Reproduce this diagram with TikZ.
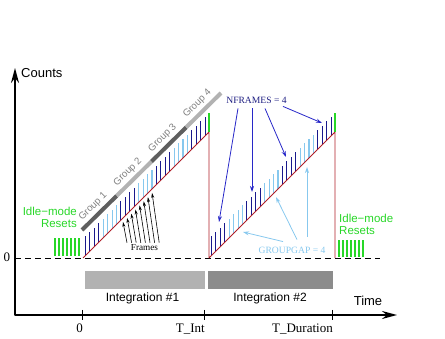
\documentclass[tikz,border=0pt]{standalone}
\usepackage{fontspec}
\setmainfont{Liberation Serif}
\setsansfont{Liberation Sans}
\usepackage{xcolor}
\usepackage{tikz}
\usetikzlibrary{arrows.meta,calc}

\definecolor{frameblue}{RGB}{25,25,140}
\definecolor{gapblue}{RGB}{135,200,238}
\definecolor{idlegreen}{RGB}{40,215,40}
\definecolor{rampred}{RGB}{175,30,40}
\definecolor{arrowblue}{RGB}{40,40,200}
\definecolor{labelblue}{RGB}{30,30,130}
\definecolor{banddark}{RGB}{95,95,95}
\definecolor{bandlight}{RGB}{178,178,178}

\begin{document}
\begin{tikzpicture}[x=1pt,y=-1pt,line join=round,
  readbar/.style={line width=1.1pt,draw=frameblue},
  gapbar/.style={line width=1.1pt,draw=gapblue},
  resetbar/.style={line width=1.3pt,draw=idlegreen},
  ramp/.style={line width=0.8pt,draw=rampred},
  band/.style={line width=4pt},
  grouplbl/.style={above=1pt,sloped,inner sep=1.5pt,text=gray,font=\sffamily\fontsize{9.7}{10}\selectfont},
  axis/.style={line width=1.8pt,{Stealth[length=15pt,width=8pt]}-{Stealth[length=15pt,width=8pt]}},
  tickmark/.style={line width=1pt},
  framearrow/.style={line width=0.6pt,-{Stealth[length=5pt,width=3pt]}},
  nfarrow/.style={line width=0.8pt,draw=arrowblue,-{Stealth[length=6pt,width=4pt]}},
  gaparrow/.style={line width=0.8pt,draw=gapblue,-{Stealth[length=6pt,width=4pt]}},
  sanslbl/.style={font=\sffamily\fontsize{12}{12}\selectfont,inner sep=0pt},
  seriflbl/.style={font=\fontsize{13}{13}\selectfont,inner sep=0pt},
  smalllbl/.style={font=\fontsize{9.6}{10}\selectfont,inner sep=1pt},
  idlelbl/.style={font=\sffamily\fontsize{11.5}{11.5}\selectfont,text=idlegreen,inner sep=0pt}]
  \useasboundingbox (0,0) rectangle (445,339);
  \coordinate (O) at (15,315);
  \coordinate (Ytop) at (15,68);
  \coordinate (Xend) at (397,315);
  \coordinate (Z0) at (15,258);
  \coordinate (Z1) at (380,258);
  \coordinate (A0) at (83,258);
  \coordinate (A1) at (209,132);
  \coordinate (B0) at (209,258);
  \coordinate (B1) at (335,132);
  \coordinate (B2) at (335,258);
  \coordinate (G0) at (82,230);
  \coordinate (G1) at (116.75,195.75);
  \coordinate (G2) at (151.5,161.5);
  \coordinate (G3) at (186.25,127.25);
  \coordinate (G4) at (221,93);
  % baseline and integration blocks
  \draw[line width=0.8pt,dash pattern=on 6pt off 4pt] (Z0) -- (Z1);
  \fill[bandlight] (85,271) rectangle (205,289);
  \fill[black!45] (208,271) rectangle (333,289);
  \node[sanslbl,anchor=base] (int1) at (142.5,302) {Integration \#1};
  \node[sanslbl,anchor=base] (int2) at (270,302) {Integration \#2};
  % frames on the two ramps
  \foreach \rs in {83,209} {
    \foreach \i in {0,...,27} {
      \pgfmathsetmacro{\bx}{\rs+2.5+4.43*\i}
      \pgfmathsetmacro{\by}{258-(\bx-\rs)}
      \pgfmathtruncatemacro{\grp}{mod(\i,8)}
      \ifnum\grp<4 \draw[readbar] (\bx,\by) -- ++(0,-19);
      \else \draw[gapbar] (\bx,\by) -- ++(0,-19);\fi
    }
  }
  \draw[ramp] (A0) -- (A1) -- (B0) -- (B1) -- (B2);
  \draw[resetbar] (A1) -- ++(0,-19);
  \draw[resetbar] (B1) -- ++(0,-19);
  \foreach \i in {0,...,6} {
    \draw[resetbar] ({55+4*\i},256) -- ++(0,-18);
    \draw[resetbar] ({339+4*\i},257) -- ++(0,-17);
  }
  \node[idlelbl,align=right,anchor=north east] (idle1) at (77,207) {Idle−mode\\Resets};
  \node[idlelbl,align=left,anchor=north west] (idle2) at (339,214) {Idle−mode\\Resets};
  % groups
  \draw[band,banddark] (G0) -- node[grouplbl] (grp1) {Group 1} (G1);
  \draw[band,bandlight] (G1) -- node[grouplbl] (grp2) {Group 2} (G2);
  \draw[band,banddark] (G2) -- node[grouplbl] (grp3) {Group 3} (G3);
  \draw[band,bandlight] (G3) -- node[grouplbl] (grp4) {Group 4} (G4);
  % frames arrows
  \node[smalllbl,font=\fontsize{9.2}{10}\selectfont] (frames) at (144.5,248) {Frames};
  \foreach \i in {0,...,7} {
    \coordinate (fh\i) at ({123+4.15*\i},{222-4.15*\i});
    \draw[framearrow] ([xshift={-17.5+4.6*\i},yshift=1pt]frames.north) -- (fh\i);
  }
  % NFRAMES
  \node[smalllbl,text=labelblue] (nframes) at (256.5,100) {NFRAMES = 4};
  \coordinate (nf1) at (219,222);
  \coordinate (nf2) at (252,192);
  \coordinate (nf3) at (286,157);
  \coordinate (nf4) at (322,123);
  \draw[nfarrow] ([xshift=-18.5pt,yshift=-4pt]nframes.south) -- (nf1);
  \draw[nfarrow] ([xshift=-4.5pt,yshift=-4pt]nframes.south) -- (nf2);
  \draw[nfarrow] ([xshift=8.5pt,yshift=-4pt]nframes.south) -- (nf3);
  \draw[nfarrow] ([xshift=26.5pt,yshift=-2pt]nframes.south) -- (nf4);
  % GROUPGAP
  \node[smalllbl,text=gapblue] (ggap) at (292,250) {GROUPGAP = 4};
  \coordinate (gg1) at (243,232);
  \coordinate (gg2) at (276,197);
  \coordinate (gg3) at (307,167);
  \draw[gaparrow] ([xshift=-9pt,yshift=4pt]ggap.north) -- (gg1);
  \draw[gaparrow] ([xshift=5pt,yshift=6pt]ggap.north) -- (gg2);
  \draw[gaparrow] ([xshift=15pt,yshift=9pt]ggap.north) -- (gg3);
  % axes
  \draw[axis] (Ytop) -- (O) -- (Xend);
  \foreach \tx/\tl [count=\k] in {82/0,204/T\_Int,332/T\_Duration} {
    \draw[tickmark] (\tx,310) -- (\tx,320);
    \node[seriflbl,anchor=base east] (tick\k) at (\tx+1,333) {\tl};
  }
  \node[sanslbl,font=\sffamily\fontsize{13}{13}\selectfont,anchor=base west] (counts) at (21,77.7) {Counts};
  \node[sanslbl,font=\sffamily\fontsize{13}{13}\selectfont,anchor=base] (time) at (368,305.6) {Time};
  \node[seriflbl,anchor=base] (zero) at (7,261.5) {0};
\end{tikzpicture}
\end{document}
